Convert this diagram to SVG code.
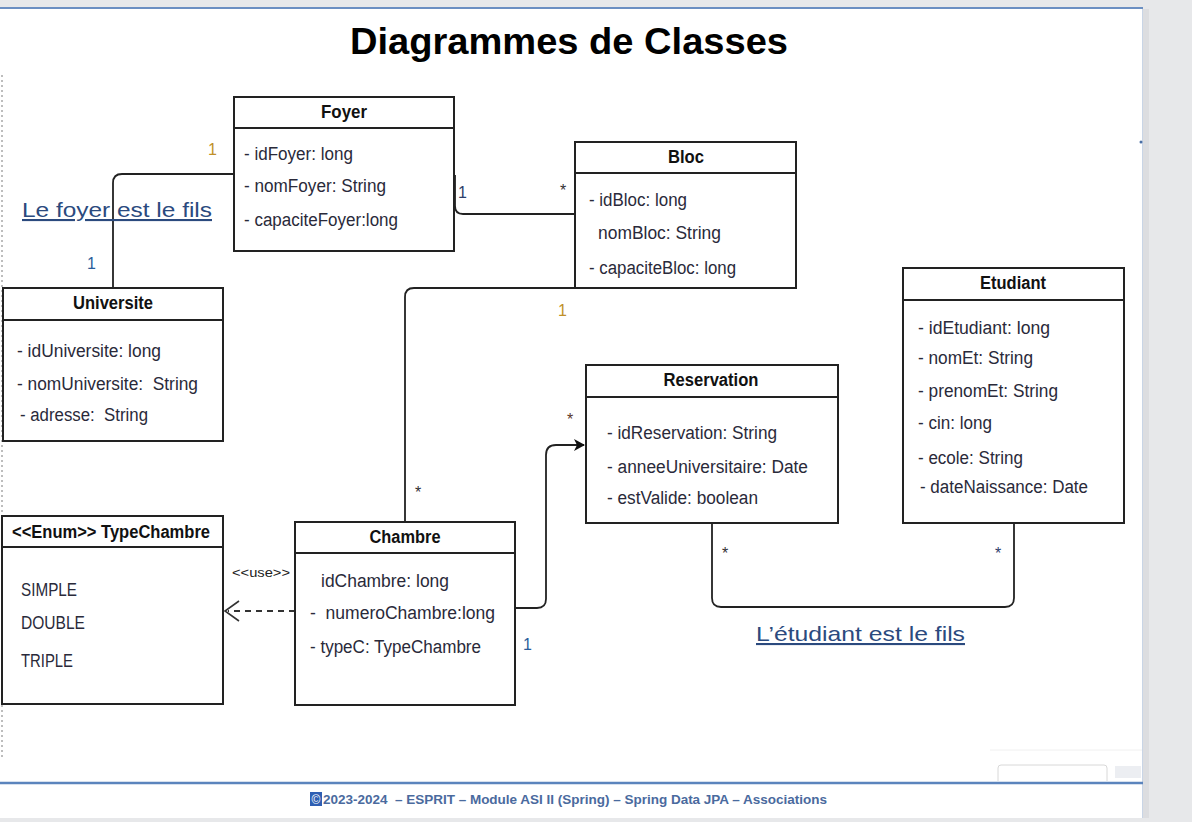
<svg xmlns="http://www.w3.org/2000/svg" width="1192" height="822" viewBox="0 0 1192 822">
<defs>
<style>
.box{fill:#fff;stroke:#222;stroke-width:2}
.div{stroke:#222;stroke-width:2}
.hd{font-family:"Liberation Sans",Arial,sans-serif;font-weight:bold;font-size:18px;fill:#111;text-anchor:middle}
.hdl{font-family:"Liberation Sans",Arial,sans-serif;font-weight:bold;font-size:18px;fill:#111;text-anchor:start}
.at{font-family:"Liberation Sans",Arial,sans-serif;font-size:18px;fill:#2a2a3a;white-space:pre}
.lbl{font-family:"Liberation Sans",Arial,sans-serif;font-size:16px}
.con{fill:none;stroke:#222;stroke-width:1.8}
.note{font-family:"Liberation Sans",Arial,sans-serif;font-size:21px;fill:#2b4a7e;text-decoration:underline}
</style>
<marker id="arr" markerWidth="12" markerHeight="12" refX="10" refY="6" orient="auto" markerUnits="userSpaceOnUse">
<path d="M0,0 L11,6 L0,12 L3,6 Z" fill="#111"/>
</marker>
</defs>
<rect x="0" y="0" width="1192" height="822" fill="#e7e8ea"/>
<rect x="0" y="9" width="1143" height="809" fill="#fff"/>
<line x1="0" y1="8" x2="1143" y2="8" stroke="#6b8fc2" stroke-width="2"/>
<line x1="1142.5" y1="9" x2="1142.5" y2="818" stroke="#c9d5e6" stroke-width="1"/>
<rect x="1143" y="9" width="6" height="809" fill="#dcdde0"/>
<line x1="2" y1="75" x2="2" y2="760" stroke="#bdbdbd" stroke-width="2" stroke-dasharray="2,3"/>
<circle cx="1141" cy="142" r="1.5" fill="#4a6fa5"/>
<line x1="990" y1="750" x2="1142" y2="750" stroke="#f0f0f0" stroke-width="1"/>
<path d="M998,781 V768 Q998,765 1001,765 H1104 Q1107,765 1107,768 V781" fill="none" stroke="#d8d8d8" stroke-width="1"/>
<rect x="1115" y="766" width="26" height="12" fill="#eceef2"/>
<line x1="0" y1="783" x2="1143" y2="783" stroke="#5b84bd" stroke-width="2.5"/>

<text x="569" y="54" font-family="'Liberation Sans',Arial,sans-serif" font-weight="bold" font-size="36" fill="#000" text-anchor="middle" textLength="438" lengthAdjust="spacingAndGlyphs">Diagrammes de Classes</text>

<g id="connectors">
<path class="con" d="M234,174 H122 Q113,174 113,183 V288" stroke-width="2"/>
<path class="con" d="M455,175 V206 Q455,214 463,214 H575"/>
<path class="con" d="M575,288 H414 Q405,288 405,297 V522"/>
<path class="con" d="M505,608 H537 Q546,608 546,599 V455 Q546,445 556,445 H584" stroke-width="2" marker-end="url(#arr)"/>
<path class="con" d="M712,523 V598 Q712,607 721,607 H1005 Q1014,607 1014,598 V523"/>
<path d="M295,611 H228" fill="none" stroke="#333" stroke-width="1.8" stroke-dasharray="6,5"/>
<path d="M239,601 L225,611 L239,621" fill="none" stroke="#333" stroke-width="1.6"/>
<text class="lbl" x="208" y="155" fill="#c0902a">1</text>
<text class="lbl" x="87" y="269" fill="#2a5d9a">1</text>
<text class="lbl" x="458" y="198" fill="#2d3e6a">1</text>
<text class="lbl" x="560" y="196" fill="#333">*</text>
<text class="lbl" x="558" y="316" fill="#c0902a">1</text>
<text class="lbl" x="415" y="498" fill="#333">*</text>
<text class="lbl" x="567" y="425" fill="#5a3a2a">*</text>
<text class="lbl" x="523" y="650" fill="#2a5d9a">1</text>
<text class="lbl" x="722" y="559" fill="#333">*</text>
<text class="lbl" x="995" y="559" fill="#2d3e6a">*</text>
<text x="232" y="577" font-family="'Liberation Sans',Arial,sans-serif" font-size="13" fill="#222" textLength="58" lengthAdjust="spacingAndGlyphs">&lt;&lt;use&gt;&gt;</text>
</g>

<text class="note" x="22" y="217" textLength="190" lengthAdjust="spacingAndGlyphs">Le foyer est le fils</text>
<text class="note" x="756" y="641" textLength="209" lengthAdjust="spacingAndGlyphs">L’étudiant est le fils</text>

<g id="foyer">
<rect class="box" x="234" y="97" width="220" height="154"/>
<line class="div" x1="234" y1="128" x2="454" y2="128"/>
<text class="hd" x="344" y="118" textLength="46" lengthAdjust="spacingAndGlyphs">Foyer</text>
<text class="at" x="244" y="160" textLength="109" lengthAdjust="spacingAndGlyphs">- idFoyer: long</text>
<text class="at" x="244" y="192" textLength="142" lengthAdjust="spacingAndGlyphs">- nomFoyer: String</text>
<text class="at" x="244" y="226" textLength="154" lengthAdjust="spacingAndGlyphs">- capaciteFoyer:long</text>
</g>

<g id="bloc">
<rect class="box" x="575" y="142" width="221" height="146"/>
<line class="div" x1="575" y1="173" x2="796" y2="173"/>
<text class="hd" x="686" y="163" textLength="36" lengthAdjust="spacingAndGlyphs">Bloc</text>
<text class="at" x="589" y="206" textLength="98" lengthAdjust="spacingAndGlyphs">- idBloc: long</text>
<text class="at" x="598" y="239" textLength="123" lengthAdjust="spacingAndGlyphs">nomBloc: String</text>
<text class="at" x="589" y="274" textLength="147" lengthAdjust="spacingAndGlyphs">- capaciteBloc: long</text>
</g>

<g id="universite">
<rect class="box" x="3" y="288" width="220" height="153"/>
<line class="div" x1="3" y1="320" x2="223" y2="320"/>
<text class="hd" x="113" y="309" textLength="80" lengthAdjust="spacingAndGlyphs">Universite</text>
<text class="at" x="17" y="357" textLength="144" lengthAdjust="spacingAndGlyphs">- idUniversite: long</text>
<text class="at" x="17" y="390" textLength="181" lengthAdjust="spacingAndGlyphs">- nomUniversite:  String</text>
<text class="at" x="20" y="421" textLength="128" lengthAdjust="spacingAndGlyphs">- adresse:  String</text>
</g>

<g id="etudiant">
<rect class="box" x="903" y="268" width="221" height="255"/>
<line class="div" x1="903" y1="300" x2="1124" y2="300"/>
<text class="hd" x="1013" y="289" textLength="66" lengthAdjust="spacingAndGlyphs">Etudiant</text>
<text class="at" x="918" y="334" textLength="132" lengthAdjust="spacingAndGlyphs">- idEtudiant: long</text>
<text class="at" x="918" y="364" textLength="115" lengthAdjust="spacingAndGlyphs">- nomEt: String</text>
<text class="at" x="918" y="397" textLength="140" lengthAdjust="spacingAndGlyphs">- prenomEt: String</text>
<text class="at" x="918" y="429" textLength="74" lengthAdjust="spacingAndGlyphs">- cin: long</text>
<text class="at" x="918" y="464" textLength="105" lengthAdjust="spacingAndGlyphs">- ecole: String</text>
<text class="at" x="920" y="493" textLength="168" lengthAdjust="spacingAndGlyphs">- dateNaissance: Date</text>
</g>

<g id="reservation">
<rect class="box" x="586" y="365" width="252" height="158"/>
<line class="div" x1="586" y1="397" x2="838" y2="397"/>
<text class="hd" x="711" y="386" textLength="95" lengthAdjust="spacingAndGlyphs">Reservation</text>
<text class="at" x="607" y="439" textLength="170" lengthAdjust="spacingAndGlyphs">- idReservation: String</text>
<text class="at" x="607" y="473" textLength="201" lengthAdjust="spacingAndGlyphs">- anneeUniversitaire: Date</text>
<text class="at" x="607" y="504" textLength="151" lengthAdjust="spacingAndGlyphs">- estValide: boolean</text>
</g>

<g id="typechambre">
<rect class="box" x="2" y="516" width="221" height="188"/>
<line class="div" x1="2" y1="547" x2="223" y2="547"/>
<text class="hdl" x="12" y="538" textLength="198" lengthAdjust="spacingAndGlyphs">&lt;&lt;Enum&gt;&gt; TypeChambre</text>
<text class="at" x="21" y="596" textLength="56" lengthAdjust="spacingAndGlyphs">SIMPLE</text>
<text class="at" x="21" y="629" textLength="64" lengthAdjust="spacingAndGlyphs">DOUBLE</text>
<text class="at" x="21" y="667" textLength="52" lengthAdjust="spacingAndGlyphs">TRIPLE</text>
</g>

<g id="chambre">
<rect class="box" x="295" y="522" width="220" height="183"/>
<line class="div" x1="295" y1="553" x2="515" y2="553"/>
<text class="hd" x="405" y="543" textLength="71" lengthAdjust="spacingAndGlyphs">Chambre</text>
<text class="at" x="321" y="587" textLength="128" lengthAdjust="spacingAndGlyphs">idChambre: long</text>
<text class="at" x="310" y="619" textLength="185" lengthAdjust="spacingAndGlyphs">-  numeroChambre:long</text>
<text class="at" x="310" y="653" textLength="171" lengthAdjust="spacingAndGlyphs">- typeC: TypeChambre</text>
</g>

<rect x="310" y="792" width="12" height="14" fill="#2f5fb3"/>
<text x="316" y="804" font-family="'Liberation Sans',Arial,sans-serif" font-size="12" fill="#fff" text-anchor="middle">©</text>
<text x="323" y="804" font-family="'Liberation Sans',Arial,sans-serif" font-weight="bold" font-size="12.5" fill="#4a6a9e" textLength="504" lengthAdjust="spacingAndGlyphs" style="white-space:pre">2023-2024  – ESPRIT – Module ASI II (Spring) – Spring Data JPA – Associations</text>
</svg>
